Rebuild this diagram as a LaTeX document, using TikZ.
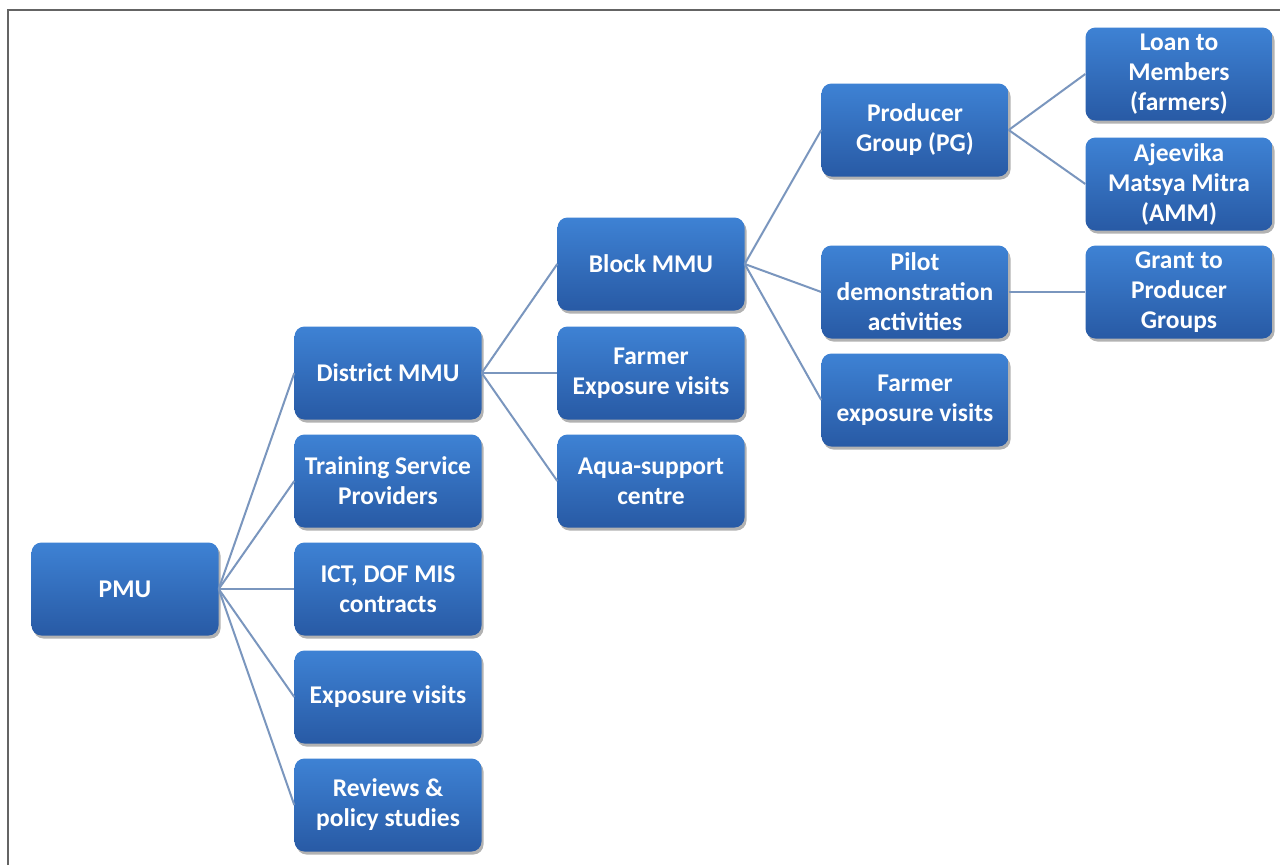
\documentclass[tikz,border=0pt]{standalone}
\usepackage{fontspec}
\setmainfont{Carlito}
\usetikzlibrary{shadows}
\definecolor{boxtop}{RGB}{62,130,212}
\definecolor{boxbot}{RGB}{40,90,165}
\definecolor{linkc}{RGB}{122,150,190}
\definecolor{framec}{RGB}{100,100,100}
\tikzset{
  box/.style={rounded corners=10pt, minimum width=187pt, minimum height=93pt,
    inner sep=2pt, align=center, text=white,
    font=\bfseries\fontsize{25.5}{30}\selectfont,
    top color=boxtop, bottom color=boxbot, draw=none,
    drop shadow={shadow xshift=2pt, shadow yshift=-3pt, opacity=0.3, fill=black}},
  link/.style={draw=linkc, line width=2pt}
}
\begin{document}
\begin{tikzpicture}[x=1pt,y=-1pt]
\useasboundingbox (0,0) rectangle (1280,865);
\fill[white] (0,0) rectangle (1280,865);
\coordinate (fa) at (8,865);
\coordinate (fb) at (8,10);
\coordinate (fc) at (1280,10);
\draw[framec, line width=2pt] (fa) -- (fb) -- (fc);

\node[box] (pmu) at (125,589) {PMU};

\node[box] (dist) at (388,373) {District MMU};
\node[box] (tsp) at (388,481) {Training Service\\Providers};
\node[box] (ict) at (388,589) {ICT, DOF MIS\\contracts};
\node[box] (exp) at (388,697) {Exposure visits};
\node[box] (rev) at (388,805) {Reviews \&\\policy studies};

\node[box] (block) at (651,264) {Block MMU};
\node[box] (fev) at (651,373) {Farmer\\Exposure visits};
\node[box] (aqua) at (651,481) {Aqua-support\\centre};

\node[box] (pg) at (915,130) {Producer\\Group (PG)};
\node[box] (pilot) at (915,292) {Pilot\\demonstration\\activities};
\node[box] (fev2) at (915,400) {Farmer\\exposure visits};

\node[box] (loan) at (1179,74) {Loan to\\Members\\(farmers)};
\node[box] (amm) at (1179,184) {Ajeevika\\Matsya Mitra\\(AMM)};
\node[box] (grant) at (1179,292) {Grant to\\Producer\\Groups};

\foreach \c in {dist,tsp,ict,exp,rev}{\draw[link] (pmu.east) -- (\c.west);}
\foreach \c in {block,fev,aqua}{\draw[link] (dist.east) -- (\c.west);}
\foreach \c in {pg,pilot,fev2}{\draw[link] (block.east) -- (\c.west);}
\foreach \c in {loan,amm}{\draw[link] (pg.east) -- (\c.west);}
\draw[link] (pilot.east) -- (grant.west);
\end{tikzpicture}
\end{document}
